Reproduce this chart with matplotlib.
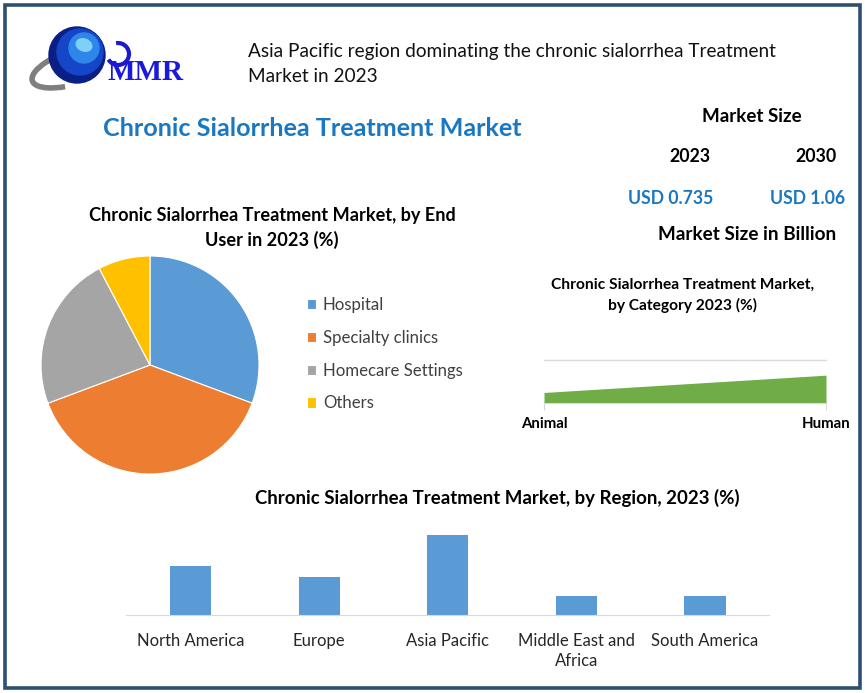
import numpy as np
import matplotlib.pyplot as plt
from matplotlib.patches import Circle, Rectangle, Arc, Ellipse

end_users = ["Hospital", "Specialty clinics", "Homecare Settings", "Others"]
end_user_share = [30.7, 38.6, 23.0, 7.7]
end_user_colors = ["#5B9BD5", "#ED7D31", "#A5A5A5", "#FFC000"]

categories = ["Animal", "Human"]
category_share = [25, 65]

regions = ["North America", "Europe", "Asia Pacific", "Middle East and\nAfrica", "South America"]
region_share = [24.0, 18.4, 39.0, 9.5, 9.5]

size_years = ["2023", "2030"]
size_values = ["USD 0.735", "USD 1.06"]

W, H = 865, 693
plt.rcParams['font.family'] = ['Lato', 'DejaVu Sans']

def fx(x):
    return x / W

def fy(y):
    return 1 - y / H

def box(l, t, r, b):  # pixel box -> figure coords
    return [l / W, 1 - b / H, (r - l) / W, (b - t) / H]

fig = plt.figure(figsize=(W / 100, H / 100), dpi=100)
fig.patch.set_facecolor("white")

# background layer in pixel coords (border + logo)
bg = fig.add_axes([0, 0, 1, 1])
bg.set_xlim(0, W)
bg.set_ylim(H, 0)
bg.axis("off")
bg.add_patch(Rectangle((4.5, 5), 855, 682.5, fill=False, edgecolor="#2C5072", linewidth=2.6))

# logo: globe, swoosh, MMR
bg.add_patch(Arc((78, 66), 96, 34, angle=-18, theta1=140, theta2=330, color="#7f7f7f", linewidth=4))
bg.add_patch(Circle((77, 55), 28, color="#0a1f86"))
bg.add_patch(Circle((80, 52), 23, color="#1546c8"))
bg.add_patch(Circle((84, 48), 15, color="#2f86ea"))
bg.add_patch(Ellipse((84, 45), 16, 12, angle=20, color="#7fd0f5"))
bg.add_patch(Arc((118, 54), 22, 22, theta1=-100, theta2=150, color="#1a1acc", linewidth=3))
bg.text(107, 72, "MMR", fontsize=21, fontweight="bold", color="#1a1adb",
        family="Liberation Serif", va="center", ha="left")

# header texts
fig.text(fx(248), fy(52), "Asia Pacific region dominating the chronic sialorrhea Treatment",
         fontsize=13.7, va="center", ha="left", color="#111111")
fig.text(fx(248), fy(77), "Market in 2023", fontsize=13.7, va="center", ha="left", color="#111111")
fig.text(fx(312), fy(128), "Chronic Sialorrhea Treatment Market", fontsize=18.1,
         fontweight="bold", color="#1A78C2", va="center", ha="center")

fig.text(fx(752), fy(117), "Market Size", fontsize=13.5, fontweight="bold", va="center", ha="center")
for yr, val, cx, cv in zip(size_years, size_values, [690, 816], [671, 808]):
    fig.text(fx(cx), fy(157), yr, fontsize=12.8, fontweight="bold", va="center", ha="center")
    fig.text(fx(cv), fy(198), val, fontsize=12.7, fontweight="bold", color="#1A78C2",
             va="center", ha="center")
fig.text(fx(747), fy(235), "Market Size in Billion", fontsize=13.6, fontweight="bold",
         va="center", ha="center")

# pie - end user
ax_pie = fig.add_axes(box(41, 256, 259, 474))
wedges, _ = ax_pie.pie(end_user_share, colors=end_user_colors, startangle=90, counterclock=False,
                       wedgeprops=dict(edgecolor="white", linewidth=0.8))
ax_pie.set_xlim(-1, 1)
ax_pie.set_ylim(-1, 1)
fig.text(fx(272), fy(216), "Chronic Sialorrhea Treatment Market, by End", fontsize=13.1,
         fontweight="bold", va="center", ha="center")
fig.text(fx(272), fy(240), "User in 2023 (%)", fontsize=13.1, fontweight="bold",
         va="center", ha="center")
ax_pie.legend(wedges, end_users, loc="upper left", bbox_to_anchor=(fx(307), fy(297)),
              bbox_transform=fig.transFigure, frameon=False, fontsize=12.1,
              handlelength=0.55, handleheight=0.55, handletextpad=0.4, labelspacing=1.0,
              labelcolor="#404040", borderpad=0, borderaxespad=0)

# area - category
ax_a = fig.add_axes(box(544, 360, 826, 403.3))
ax_a.fill_between([0, 1], category_share, color="#70AD47", linewidth=0)
ax_a.set_xlim(0, 1)
ax_a.set_ylim(0, 100)
for s in ["top", "left", "right"]:
    ax_a.spines[s].set_visible(False)
ax_a.spines["bottom"].set_color("#d9d9d9")
ax_a.set_yticks([100])
ax_a.set_yticklabels([])
ax_a.tick_params(axis="y", length=0)
ax_a.yaxis.grid(True, color="#d9d9d9", linewidth=1, clip_on=False)
ax_a.set_xticks([0, 1])
ax_a.set_xticklabels(categories, fontsize=10.8, fontweight="bold")
ax_a.tick_params(axis="x", length=5, color="#d9d9d9", pad=5)
ax_a.set_facecolor("none")
fig.text(fx(683), fy(285), "Chronic Sialorrhea Treatment Market,", fontsize=11.2,
         fontweight="bold", va="center", ha="center")
fig.text(fx(683), fy(305), "by Category 2023 (%)", fontsize=11.2, fontweight="bold",
         va="center", ha="center")

# bars - region
ax_b = fig.add_axes(box(126.2, 513, 769.3, 615))
ax_b.bar(regions, region_share, width=0.32, color="#5B9BD5")
ax_b.set_xlim(-0.5, len(regions) - 0.5)
ax_b.set_ylim(0, 50)
for s in ["top", "left", "right"]:
    ax_b.spines[s].set_visible(False)
ax_b.spines["bottom"].set_color("#d9d9d9")
ax_b.set_yticks([])
ax_b.tick_params(axis="x", length=0, pad=13, labelsize=12, labelcolor="#262626")
for lbl in ax_b.get_xticklabels():
    lbl.set_linespacing(1.3)
ax_b.set_facecolor("none")
fig.text(fx(497), fy(498), "Chronic Sialorrhea Treatment Market, by Region, 2023 (%)",
         fontsize=13.4, fontweight="bold", va="center", ha="center")

fig.savefig("out.png", dpi=100, facecolor="white")
